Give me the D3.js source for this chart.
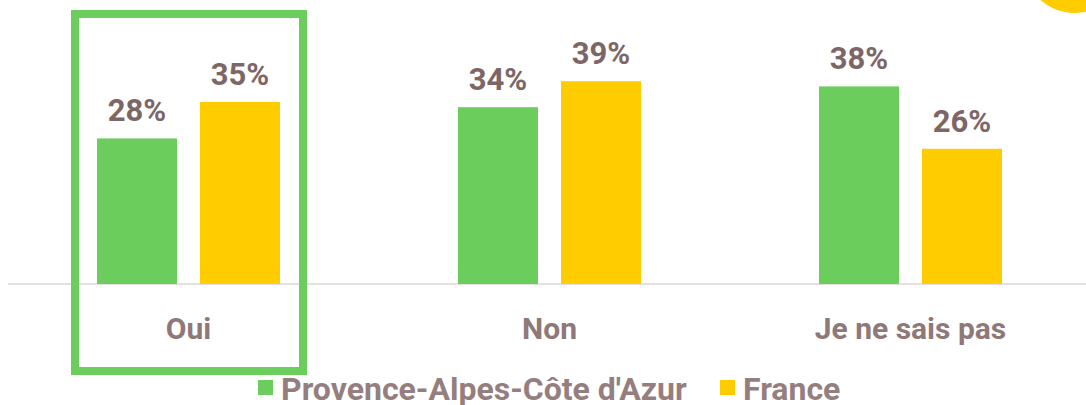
<!DOCTYPE html>
<html>
<head>
<meta charset="utf-8">
<script src="https://cdn.jsdelivr.net/npm/d3@7"></script>
<style>
  html, body { margin: 0; padding: 0; background: #fff; }
  svg { display: block; font-family: Roboto, "Noto Sans", sans-serif; }
</style>
</head>
<body>
<svg id="chart" width="1086" height="405"></svg>
<script>
const categories = ["Oui", "Non", "Je ne sais pas"];
const series = ["Provence-Alpes-Côte d'Azur", "France"];
const pacaValues = [28, 34, 38];
const franceValues = [35, 39, 26];
const colors = ["#6acd5c", "#ffcc00"];

const svg = d3.select("#chart");
const width = 1086, height = 405;
const baseline = 284;

const x0 = d3.scaleBand().domain(categories).range([8, 1091]);
const x1 = d3.scaleBand().domain(series).range([-91.5, 91.5]).paddingInner(0.223);
const y = d3.scaleLinear().domain([0, 50]).range([baseline, baseline - 260]);
const color = d3.scaleOrdinal().domain(series).range(colors);

const rows = categories.map((c, i) => ({
    cat: c,
    vals: [
        { s: series[0], v: pacaValues[i] },
        { s: series[1], v: franceValues[i] }
    ]
}));

// decorative circle top right
svg.append("circle")
    .attr("cx", 1075).attr("cy", -40).attr("r", 53)
    .attr("fill", "#ffcc00");

// baseline
svg.append("line")
    .attr("x1", 8).attr("x2", width)
    .attr("y1", baseline).attr("y2", baseline)
    .attr("stroke", "#ddd6d6").attr("stroke-width", 1.5);

const groups = svg.selectAll("g.cat")
    .data(rows)
    .join("g")
    .attr("class", "cat")
    .attr("transform", d => `translate(${x0(d.cat) + x0.bandwidth() / 2},0)`);

groups.selectAll("rect")
    .data(d => d.vals)
    .join("rect")
    .attr("x", d => x1(d.s))
    .attr("width", x1.bandwidth())
    .attr("y", d => y(d.v))
    .attr("height", d => baseline - y(d.v))
    .attr("fill", d => color(d.s));

groups.selectAll("text.val")
    .data(d => d.vals)
    .join("text")
    .attr("class", "val")
    .attr("x", d => x1(d.s) + x1.bandwidth() / 2)
    .attr("y", d => y(d.v) - 17)
    .attr("text-anchor", "middle")
    .attr("font-size", 31)
    .attr("font-weight", 700)
    .attr("fill", "#7d6666")
    .text(d => d.v + "%");

groups.append("text")
    .attr("class", "cat-label")
    .attr("y", 339)
    .attr("text-anchor", "middle")
    .attr("font-size", 30)
    .attr("font-weight", 700)
    .attr("fill", "#8e7878")
    .text(d => d.cat);

// highlight frame around "Oui"
svg.append("rect")
    .attr("x", 75).attr("y", 14)
    .attr("width", 228).attr("height", 357)
    .attr("fill", "none")
    .attr("stroke", "#6acd5c")
    .attr("stroke-width", 8);

// legend
const legendItems = [
    { s: series[0], x: 258 },
    { s: series[1], x: 720 }
];
const legend = svg.selectAll("g.legend")
    .data(legendItems)
    .join("g")
    .attr("class", "legend")
    .attr("transform", d => `translate(${d.x},0)`);

legend.append("rect")
    .attr("y", 380).attr("width", 15).attr("height", 15)
    .attr("fill", d => color(d.s));

legend.append("text")
    .attr("x", 23).attr("y", 400)
    .attr("font-size", 32)
    .attr("font-weight", 700)
    .attr("fill", "#957e7e")
    .text(d => d.s);
</script>
</body>
</html>
